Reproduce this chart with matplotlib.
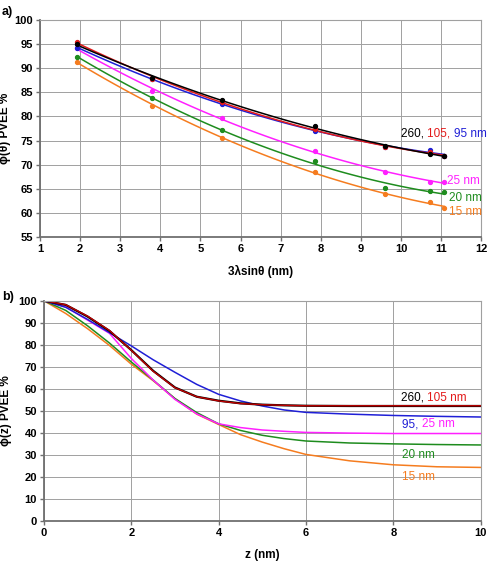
import numpy as np
import matplotlib
matplotlib.use("Agg")
import matplotlib.pyplot as plt

plt.rcParams['font.family'] = ['Liberation Sans', 'DejaVu Sans']

# ---- panel a) data points ----
x_pts = [1.92, 3.8, 5.55, 7.85, 9.6, 10.72, 11.08]
a_260 = [95.1, 87.9, 83.4, 78.0, 73.8, 72.3, 71.7]
a_105 = [95.5, 87.8, 83.0, 77.5, 73.6, 72.6, 71.8]
a_95 = [94.3, 87.8, 82.6, 77.0, 73.7, 73.1, 71.8]
a_25 = [94.2, 85.3, 79.6, 72.8, 68.4, 66.5, 66.3]
a_20 = [92.4, 83.8, 77.2, 70.7, 65.1, 64.5, 64.3]
a_15 = [91.4, 82.2, 75.5, 68.5, 64.0, 62.2, 61.0]

# ---- panel b) profiles ----
z = [0, 0.5, 1, 1.5, 2, 2.5, 3, 3.5, 4, 4.5, 5, 5.5, 6, 7, 8, 9, 10]
b_260 = [100, 98.1, 92.8, 86.3, 77.6, 68.2, 60.6, 56.4, 54.6, 53.4, 52.8, 52.5, 52.3, 52.2, 52.2, 52.2, 52.2]
b_105 = [100, 98.2, 93.0, 86.5, 77.5, 68.0, 60.5, 56.4, 54.5, 53.3, 52.8, 52.5, 52.3, 52.3, 52.3, 52.3, 52.3]
b_95 = [100, 97.0, 91.5, 85.5, 79.5, 73.2, 67.5, 62.0, 57.5, 54.5, 52.2, 50.4, 49.3, 48.5, 47.9, 47.5, 47.2]
b_25 = [100, 97.2, 91.2, 85.2, 73.8, 64.0, 55.2, 48.6, 44.1, 42.4, 41.3, 40.7, 40.2, 39.9, 39.7, 39.7, 39.7]
b_20 = [100, 95.6, 88.6, 80.8, 72.2, 64.0, 55.6, 49.2, 44.1, 41.1, 38.9, 37.4, 36.3, 35.4, 35.0, 34.7, 34.5]
b_15 = [100, 94.2, 87.3, 79.7, 71.2, 63.7, 55.5, 48.5, 43.8, 39.2, 35.8, 32.8, 30.2, 27.3, 25.5, 24.6, 24.3]

c_black = "#000000"
c_red = "#e31a1a"
c_blue = "#1f1fd6"
c_mag = "#ff20ff"
c_green = "#1e8c1e"
c_orange = "#f57c1f"

fig = plt.figure(figsize=(4.88, 5.75), dpi=100)
ax1 = fig.add_axes([0.082, 0.588, 0.904, 0.377])
ax2 = fig.add_axes([0.090, 0.094, 0.895, 0.383])


def style(ax):
    ax.grid(True, color="#a0a0a0", linewidth=0.7)
    ax.set_axisbelow(True)
    for s in ["top", "right"]:
        ax.spines[s].set_color("#a0a0a0")
        ax.spines[s].set_linewidth(0.8)
    for s in ["left", "bottom"]:
        ax.spines[s].set_color("#707070")
        ax.spines[s].set_linewidth(1.3)
    ax.tick_params(direction="out", length=3, width=1, color="#707070",
                   labelsize=8, pad=2)
    for lab in ax.get_xticklabels() + ax.get_yticklabels():
        lab.set_fontweight("bold")


# panel a
series_a = [(a_260, c_black), (a_105, c_red), (a_95, c_blue),
            (a_25, c_mag), (a_20, c_green), (a_15, c_orange)]
xf = np.linspace(x_pts[0], x_pts[-1], 100)
for vals, col in series_a[::-1]:
    p = np.polyfit(x_pts, vals, 2)
    ax1.plot(xf, np.polyval(p, xf), color=col, lw=1.1)
for vals, col in series_a[::-1]:
    ax1.plot(x_pts, vals, "o", color=col, ms=2.8, ls="none")

ax1.set_xlim(1, 12)
ax1.set_ylim(55, 100)
ax1.set_xticks(range(1, 13))
ax1.set_yticks(range(55, 101, 5))
style(ax1)
ax1.set_xlabel("3λsinθ (nm)", fontsize=8.5, fontweight="bold", labelpad=8)
ax1.set_ylabel("ϕ(θ) PVEE %", fontsize=8.5, fontweight="bold")
ax1.yaxis.set_label_coords(-0.066, 0.5)

t1 = ax1.text(10.0, 75.8, "260, ", color=c_black, fontsize=8.5)
t2 = ax1.annotate("105, ", xy=(1, 0), xycoords=t1, va="bottom", color=c_red, fontsize=8.5)
ax1.annotate("95 nm", xy=(1, 0), xycoords=t2, va="bottom", color=c_blue, fontsize=8.5)
ax1.text(11.15, 66.7, "25 nm", color=c_mag, fontsize=8.5, va="center")
ax1.text(11.2, 63.1, "20 nm", color=c_green, fontsize=8.5, va="center")
ax1.text(11.2, 60.2, "15 nm", color=c_orange, fontsize=8.5, va="center")

# panel b
ax2.plot(z, b_15, color=c_orange, lw=1.1)
ax2.plot(z, b_20, color=c_green, lw=1.1)
ax2.plot(z, b_25, color=c_mag, lw=1.1)
ax2.plot(z, b_95, color=c_blue, lw=1.1)
ax2.plot(z, b_260, color=c_black, lw=1.6)
ax2.plot(z, b_105, color="#c00000", lw=1.0)

ax2.set_xlim(0, 10)
ax2.set_ylim(0, 100)
ax2.set_xticks(range(0, 11, 2))
ax2.set_yticks(range(0, 101, 10))
style(ax2)
ax2.set_xlabel("z (nm)", fontsize=8.5, fontweight="bold", labelpad=8)
ax2.set_ylabel("ϕ(z) PVEE %", fontsize=8.5, fontweight="bold")
ax2.yaxis.set_label_coords(-0.074, 0.5)

t3 = ax2.text(8.17, 54.5, "260, ", color=c_black, fontsize=8.5)
ax2.annotate("105 nm", xy=(1, 0), xycoords=t3, va="bottom", color=c_red, fontsize=8.5)
t4 = ax2.text(8.2, 42.6, "95, ", color=c_blue, fontsize=8.5)
ax2.annotate("25 nm", xy=(1, 0), xycoords=t4, va="bottom", color=c_mag, fontsize=8.5)
ax2.text(8.2, 30, "20 nm", color=c_green, fontsize=8.5, va="center")
ax2.text(8.2, 20.1, "15 nm", color=c_orange, fontsize=8.5, va="center")

fig.text(0.004, 0.979, "a)", fontsize=9, fontweight="bold", va="center")
fig.text(0.004, 0.483, "b)", fontsize=9, fontweight="bold", va="center")

fig.savefig("out.png", dpi=100)
